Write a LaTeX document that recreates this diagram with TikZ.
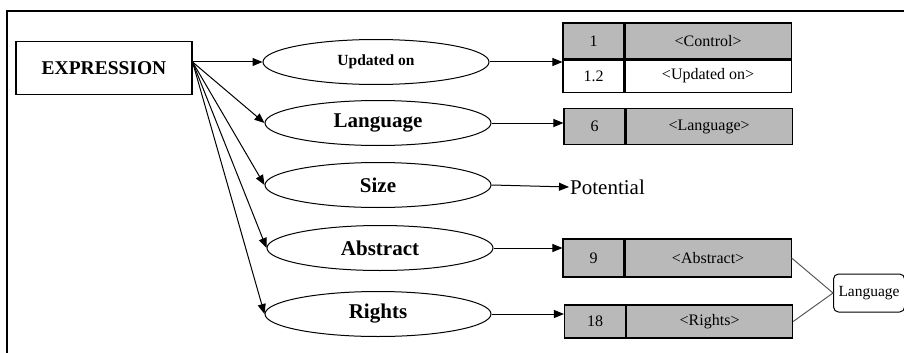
\documentclass[tikz,border=0pt]{standalone}
\usepackage{fontspec}
\setmainfont{Liberation Serif}
\usetikzlibrary{shapes.geometric,arrows.meta,positioning}
\definecolor{cellgray}{HTML}{B9B9B9}
\tikzset{
  attr/.style={draw,ellipse,line width=1pt,minimum width=226pt,minimum height=45pt,
    font=\bfseries\fontsize{21}{24}\selectfont},
  numcell/.style={draw,line width=1.1pt,minimum width=61pt,minimum height=36pt,inner sep=0pt,
    font=\fontsize{16}{18}\selectfont},
  valcell/.style={numcell,minimum width=166pt},
  grey/.style={fill=cellgray},
  link/.style={line width=1pt,-{Triangle[length=10pt,width=8pt]}}
}
\begin{document}
\begin{tikzpicture}[x=1pt,y=-1pt]
            \useasboundingbox (0,0) rectangle (904,353);
            \draw [line width=1.3pt](904,11) -- (7,11) -- (7,353);
            \node [draw,line width=1.1pt,minimum width=176pt,minimum height=53pt,
                font=\bfseries\fontsize{19.5}{22}\selectfont] (expr) at (104,68) {EXPRESSION};
            % attributes
            \node [attr,font=\bfseries\fontsize{15.5}{18}\selectfont] (upd) at (376,62) {Updated on};
            \node [attr] (lang) at (378,123) {Language};
            \node [attr] (size) at (378,185) {Size};
            \node [attr] (abstr) at (380,248) {Abstract};
            \node [attr] (rights) at (378,314) {Rights};
            % tables
            \node [numcell,grey] (c1) at (593.5,41) {1};
            \node [valcell,grey,right=0pt of c1] (v1) {<Control>};
            \node [numcell,minimum height=32pt,below=0pt of c1] (c12) {1.2};
            \node [valcell,minimum height=32pt,right=0pt of c12] (v12) {<Updated on>};
            \node [numcell,grey] (c2) at (594.5,126.5) {6};
            \node [valcell,grey,right=0pt of c2] (v2) {<Language>};
            \node [numcell,grey,minimum height=38pt] (c3) at (593.5,258) {9};
            \node [valcell,grey,minimum height=38pt,right=0pt of c3] (v3) {<Abstract>};
            \node [numcell,grey,minimum height=33pt] (c4) at (595,321.5) {18};
            \node [valcell,grey,minimum height=33pt,right=0pt of c4] (v4) {<Rights>};
            \node [anchor=west,inner sep=1pt,font=\fontsize{21}{24}\selectfont] (pot) at (569,187) {Potential};
            \node [draw,rounded corners=5pt,line width=1pt,anchor=west,inner sep=5pt,minimum height=38pt,
                font=\fontsize{15.5}{18}\selectfont] (langbox) at (833,293) {Language};
            % connectors
            \coordinate (fan) at ([yshift=6pt]expr.east);
            \foreach \n in {upd,lang,size,abstr,rights}
                \draw [link](fan) -- (\n.west);
            \draw [link](upd.east) -- (upd.east -| c1.west);
            \draw [link](lang.east) -- (lang.east -| c2.west);
            \draw [link](size.east) -- (pot.west);
            \draw [link](abstr.east) -- (abstr.east -| c3.west);
            \draw [link](rights.east) -- (rights.east -| c4.west);
            \draw [gray!70!black,line width=1pt](v3.east) -- (langbox.west) -- (v4.east);
        \end{tikzpicture}
\end{document}
